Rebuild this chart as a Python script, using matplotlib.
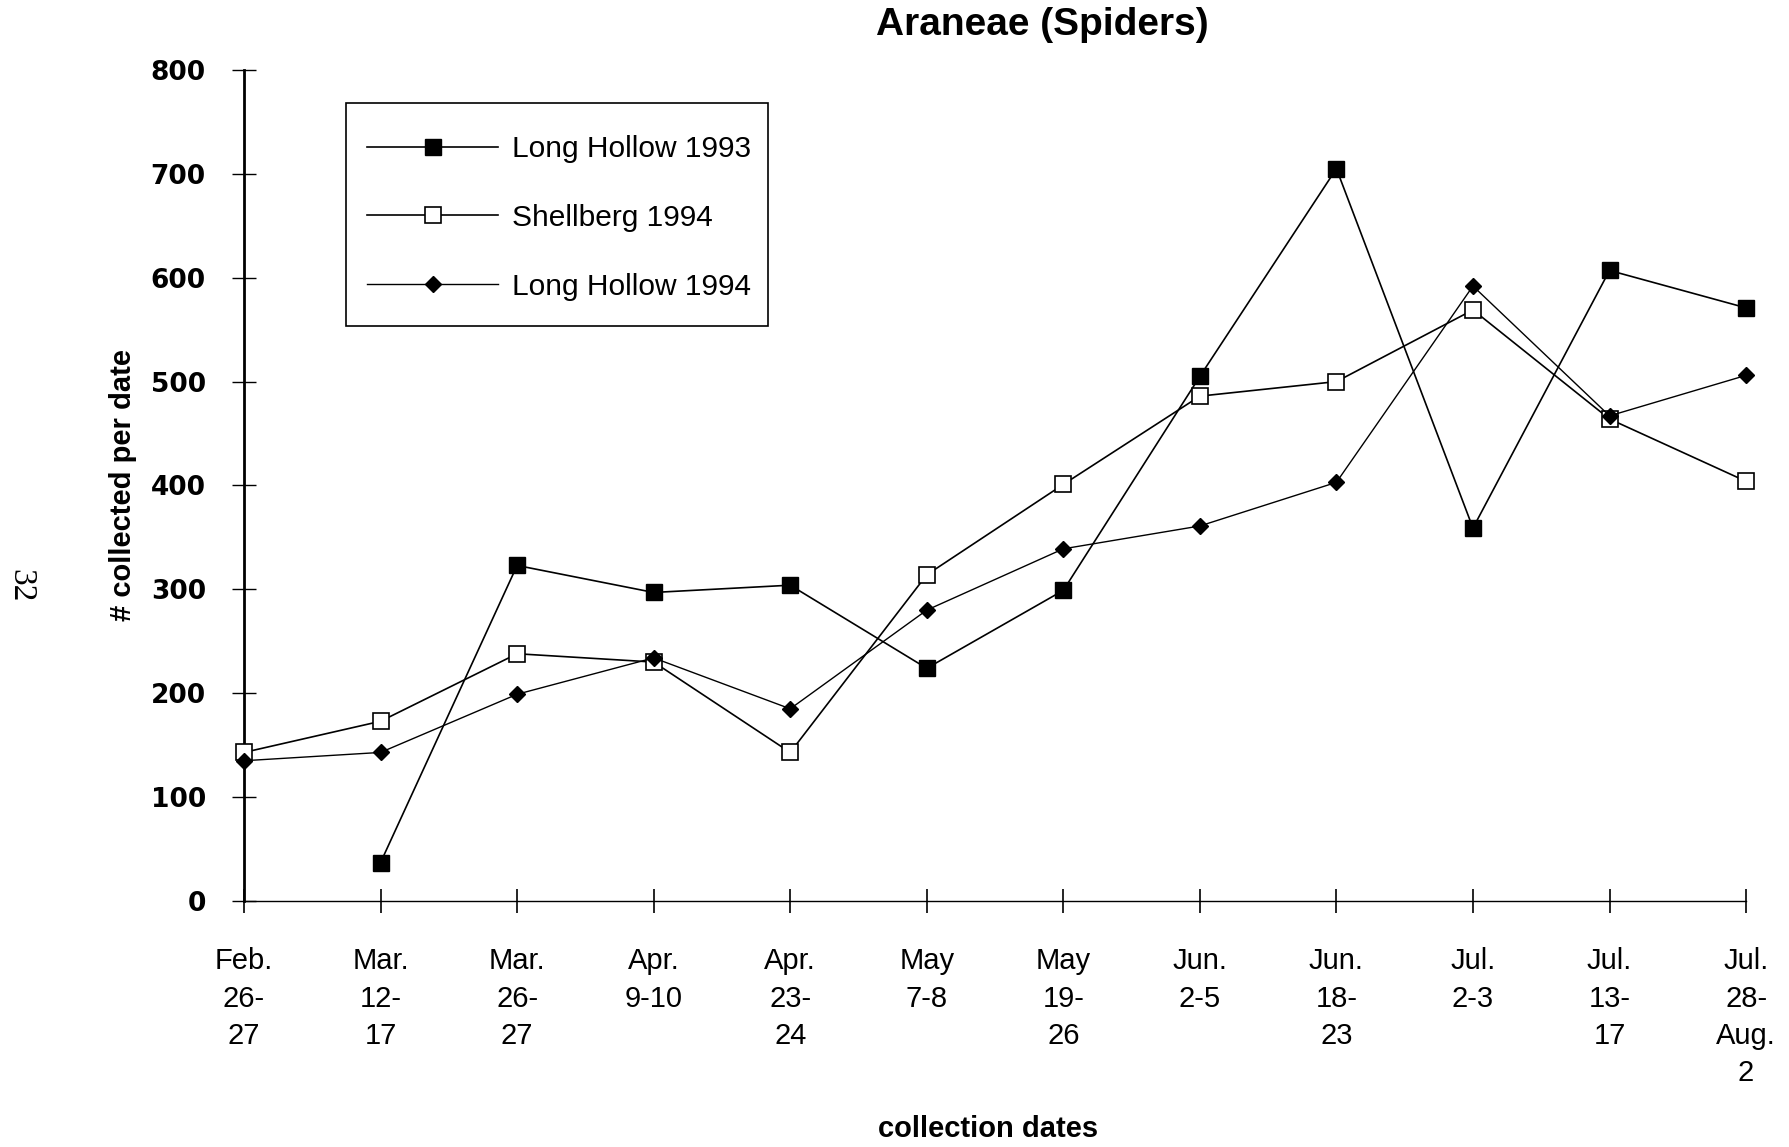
import numpy as np
import matplotlib
matplotlib.use('Agg')
import matplotlib.pyplot as plt
from matplotlib.patches import Rectangle

# collection dates and counts
dates = ['Feb.\n26-\n27', 'Mar.\n12-\n17', 'Mar.\n26-\n27', 'Apr.\n9-10', 'Apr.\n23-\n24',
         'May\n7-8', 'May\n19-\n26', 'Jun.\n2-5', 'Jun.\n18-\n23', 'Jul.\n2-3',
         'Jul.\n13-\n17', 'Jul.\n28-\nAug.\n2']
long_hollow_1993 = [np.nan, 37, 323, 297, 304, 224, 299, 505, 705, 359, 607, 571]
shellberg_1994 = [143, 173, 238, 230, 143, 314, 401, 486, 500, 569, 464, 404]
long_hollow_1994 = [135, 143, 199, 234, 185, 280, 339, 361, 403, 592, 467, 506]
yticks = [0, 100, 200, 300, 400, 500, 600, 700, 800]

x = np.arange(len(dates))
W, H = 1789, 1147

fig = plt.figure(figsize=(W / 100, H / 100), dpi=100)
ax = fig.add_axes([0.1364, 0.2145, 0.976 - 0.1364, 0.939 - 0.2145])

ax.plot(x, long_hollow_1993, color='black', lw=1.2, marker='s', ms=11,
        mfc='black', mec='black', clip_on=False, label='Long Hollow 1993', zorder=3)
ax.plot(x, shellberg_1994, color='black', lw=1.2, marker='s', ms=12,
        mfc='white', mec='black', mew=1.2, clip_on=False, label='Shellberg 1994', zorder=3)
ax.plot(x, long_hollow_1994, color='black', lw=1.0, marker='D', ms=8,
        mfc='black', mec='black', clip_on=False, label='Long Hollow 1994', zorder=3)

ax.set_xlim(0, len(dates) - 1)
ax.set_ylim(0, 800)
for s in ['top', 'right']:
    ax.spines[s].set_visible(False)
ax.spines['left'].set_linewidth(2.0)
ax.spines['bottom'].set_linewidth(1.0)

ax.set_yticks(yticks)
ax.set_yticklabels([str(v) for v in yticks], fontfamily='DejaVu Sans',
                   fontweight='bold', fontsize=19)
ax.set_xticks(x)
ax.set_xticklabels(dates, fontfamily='Liberation Sans', fontsize=21,
                   linespacing=1.42, va='top', ha='center', multialignment='center')
ax.tick_params(axis='y', direction='inout', length=17, width=1.0, pad=19)
ax.tick_params(axis='x', direction='inout', length=17, width=1.2, pad=25)

# legend without its own frame, box drawn separately to match the original padding
leg = ax.legend(loc='upper left', bbox_to_anchor=(367 / W, 1 - 135 / H),
                bbox_transform=fig.transFigure, frameon=False,
                prop={'family': 'Liberation Sans', 'size': 21.5},
                handlelength=4.4, handletextpad=0.46, labelspacing=1.37,
                borderpad=0, borderaxespad=0, markerscale=1.0)
fig.patches.append(Rectangle((346 / W, 1 - 326 / H), 422 / W, 223 / H,
                             transform=fig.transFigure, fill=False,
                             edgecolor='black', linewidth=1.2, zorder=5))

fig.text(1042 / W, 0.978, 'Araneae (Spiders)', ha='center', va='center',
         fontfamily='Liberation Sans', fontweight='bold', fontsize=28)
fig.text(988 / W, 1 - 1129 / H, 'collection dates', ha='center', va='center',
         fontfamily='Liberation Sans', fontweight='bold', fontsize=21)
fig.text(123 / W, 1 - 485 / H, '# collected per date', ha='center', va='center',
         rotation=90, fontfamily='Liberation Sans', fontweight='bold', fontsize=21)
fig.text(21 / W, 1 - 586 / H, '32', ha='center', va='center', rotation=270,
         fontfamily='Liberation Serif', fontsize=24)

fig.savefig('out.png', dpi=100)
